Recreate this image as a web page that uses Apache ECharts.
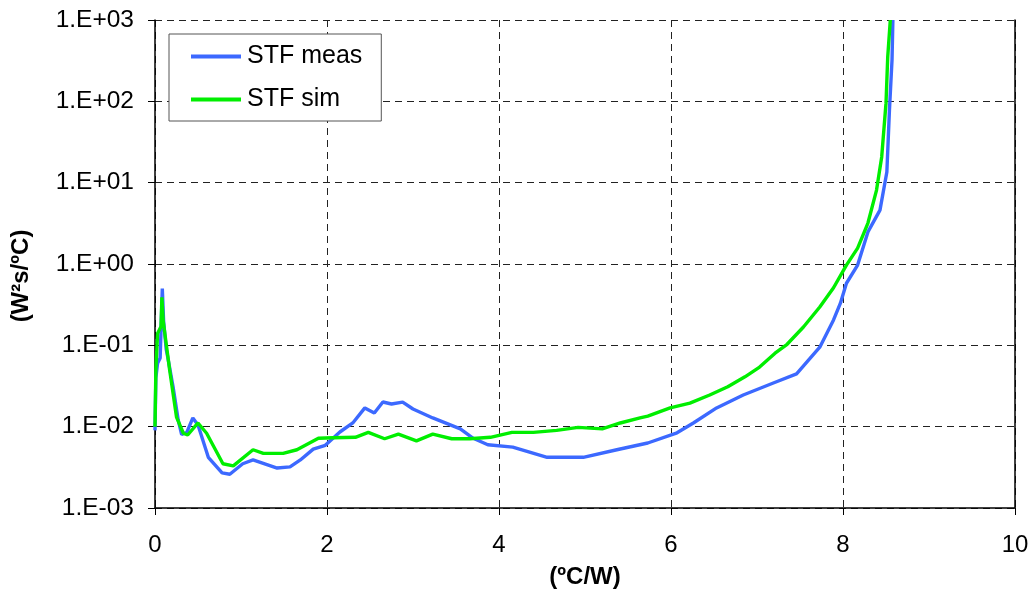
<!DOCTYPE html>
<html>
<head>
<meta charset="utf-8">
<script src="https://cdn.jsdelivr.net/npm/echarts@6/dist/echarts.min.js"></script>
<style>
html,body{margin:0;padding:0;background:#fff;}
#c{width:1034px;height:597px;}
</style>
</head>
<body>
<div id="c"></div>
<script>
const seriesNames = ['STF meas', 'STF sim'];
const xTicks = [0, 2, 4, 6, 8, 10];
const yTickLabels = ['1.E-03', '1.E-02', '1.E-01', '1.E+00', '1.E+01', '1.E+02', '1.E+03'];

const measX = [0.0, 0.01, 0.03, 0.06, 0.085, 0.10, 0.13, 0.15, 0.21, 0.27, 0.31, 0.37, 0.44, 0.50, 0.62, 0.78, 0.87, 1.02, 1.14, 1.42, 1.57, 1.69, 1.84, 1.98, 2.15, 2.30, 2.44, 2.55, 2.65, 2.75, 2.88, 3.00, 3.23, 3.55, 3.70, 3.87, 4.16, 4.56, 4.98, 5.37, 5.73, 6.07, 6.26, 6.53, 6.84, 7.19, 7.46, 7.73, 7.89, 7.97, 8.04, 8.17, 8.29, 8.43, 8.51, 8.54, 8.57, 8.58];
const measY = [0.009, 0.04, 0.06, 0.07, 0.5, 0.2, 0.09, 0.07, 0.031, 0.012, 0.0080, 0.0085, 0.0128, 0.0105, 0.0042, 0.0027, 0.0026, 0.0035, 0.0039, 0.0031, 0.0032, 0.0039, 0.0053, 0.0059, 0.0086, 0.0111, 0.0170, 0.0147, 0.0201, 0.019, 0.020, 0.0165, 0.0128, 0.0094, 0.0072, 0.0060, 0.0056, 0.0042, 0.0042, 0.0052, 0.0063, 0.0084, 0.0111, 0.0170, 0.0245, 0.0344, 0.0445, 0.095, 0.205, 0.33, 0.58, 0.97, 2.48, 4.6, 13.5, 78, 322, 1000];

const simX = [0.0, 0.01, 0.03, 0.07, 0.08, 0.095, 0.17, 0.25, 0.33, 0.38, 0.50, 0.60, 0.79, 0.91, 1.14, 1.26, 1.49, 1.65, 1.90, 2.07, 2.33, 2.48, 2.67, 2.83, 3.04, 3.23, 3.45, 3.66, 3.90, 4.15, 4.40, 4.67, 4.92, 5.20, 5.41, 5.64, 5.73, 5.99, 6.22, 6.45, 6.66, 6.86, 7.03, 7.21, 7.35, 7.54, 7.73, 7.89, 8.04, 8.17, 8.29, 8.39, 8.45, 8.50, 8.52, 8.55];
const simY = [0.0100, 0.05, 0.14, 0.17, 0.39, 0.2, 0.05, 0.0131, 0.0083, 0.0079, 0.0111, 0.0083, 0.0035, 0.0033, 0.0052, 0.0047, 0.0047, 0.0052, 0.0072, 0.0073, 0.0074, 0.0085, 0.0071, 0.0081, 0.0067, 0.0081, 0.0071, 0.0071, 0.0074, 0.0085, 0.0085, 0.0090, 0.0098, 0.0094, 0.0111, 0.0128, 0.0135, 0.0170, 0.0195, 0.0245, 0.031, 0.041, 0.054, 0.080, 0.103, 0.168, 0.296, 0.51, 0.97, 1.57, 3.19, 8.1, 20.7, 95, 351, 1000];

const zip = (xs, ys) => xs.map((x, i) => [x, ys[i]]);
const font = '"Liberation Sans", Arial, sans-serif';

const chart = echarts.init(document.getElementById('c'), null, {renderer: 'canvas'});
chart.setOption({
  backgroundColor: '#fff',
  animation: false,
  grid: {left: 155, right: 19, top: 20, bottom: 89, containLabel: false},
  legend: {
    orient: 'vertical',
    left: 169, top: 34,
    padding: [10, 19, 9, 22],
    itemGap: 18,
    itemWidth: 50,
    itemHeight: 4,
    icon: 'rect',
    backgroundColor: '#fff',
    borderColor: '#555',
    borderWidth: 1,
    borderRadius: 0,
    textStyle: {fontFamily: font, fontSize: 25, color: '#000', padding: [0, 0, 0, 1]},
    data: seriesNames
  },
  xAxis: {
    type: 'value', min: 0, max: 10, interval: 2,
    name: '(ºC/W)', nameLocation: 'middle', nameGap: 57,
    nameTextStyle: {fontFamily: font, fontSize: 24, fontWeight: 'bold', color: '#000'},
    axisLine: {lineStyle: {color: '#000', width: 1.5}},
    axisTick: {show: true, inside: false, length: 7, lineStyle: {color: '#000', width: 1}},
    axisLabel: {fontFamily: font, fontSize: 24, color: '#000', margin: 25,
      formatter: v => xTicks.includes(v) ? String(v) : ''},
    splitLine: {show: true, lineStyle: {color: '#222', type: [7, 5], width: 1}}
  },
  yAxis: [{
    type: 'log', logBase: 10, min: 0.001, max: 1000,
    name: '(W²s/ºC)', nameLocation: 'middle', nameGap: 122, nameRotate: 90,
    nameTextStyle: {fontFamily: font, fontSize: 24, fontWeight: 'bold', color: '#000', padding: [0, 24, 0, 0]},
    axisLine: {show: true, lineStyle: {color: '#000', width: 1.5}},
    axisTick: {show: true, inside: false, length: 7, lineStyle: {color: '#000', width: 1}},
    axisLabel: {fontFamily: font, fontSize: 24.5, color: '#000', margin: 21,
      formatter: v => yTickLabels[Math.round(Math.log10(v)) + 3] || ''},
    minorTick: {show: false},
    splitLine: {show: true, lineStyle: {color: '#222', type: [7, 5], width: 1}}
  }, {
    type: 'log', logBase: 10, min: 0.001, max: 1000, position: 'right',
    axisLine: {show: true, onZero: false, lineStyle: {color: '#000', width: 1.5}},
    axisTick: {show: false}, axisLabel: {show: false}, splitLine: {show: false}
  }],
  series: [{
    name: seriesNames[0], type: 'line', yAxisIndex: 0,
    data: zip(measX, measY),
    symbol: 'none', showSymbol: false, smooth: false,
    lineStyle: {color: '#3c69ff', width: 3.4},
    itemStyle: {color: '#3c69ff'},
    z: 3
  }, {
    name: seriesNames[1], type: 'line', yAxisIndex: 0,
    data: zip(simX, simY),
    symbol: 'none', showSymbol: false, smooth: false,
    lineStyle: {color: '#00ee00', width: 3.4},
    itemStyle: {color: '#00ee00'},
    z: 4
  }]
});
</script>
</body>
</html>
